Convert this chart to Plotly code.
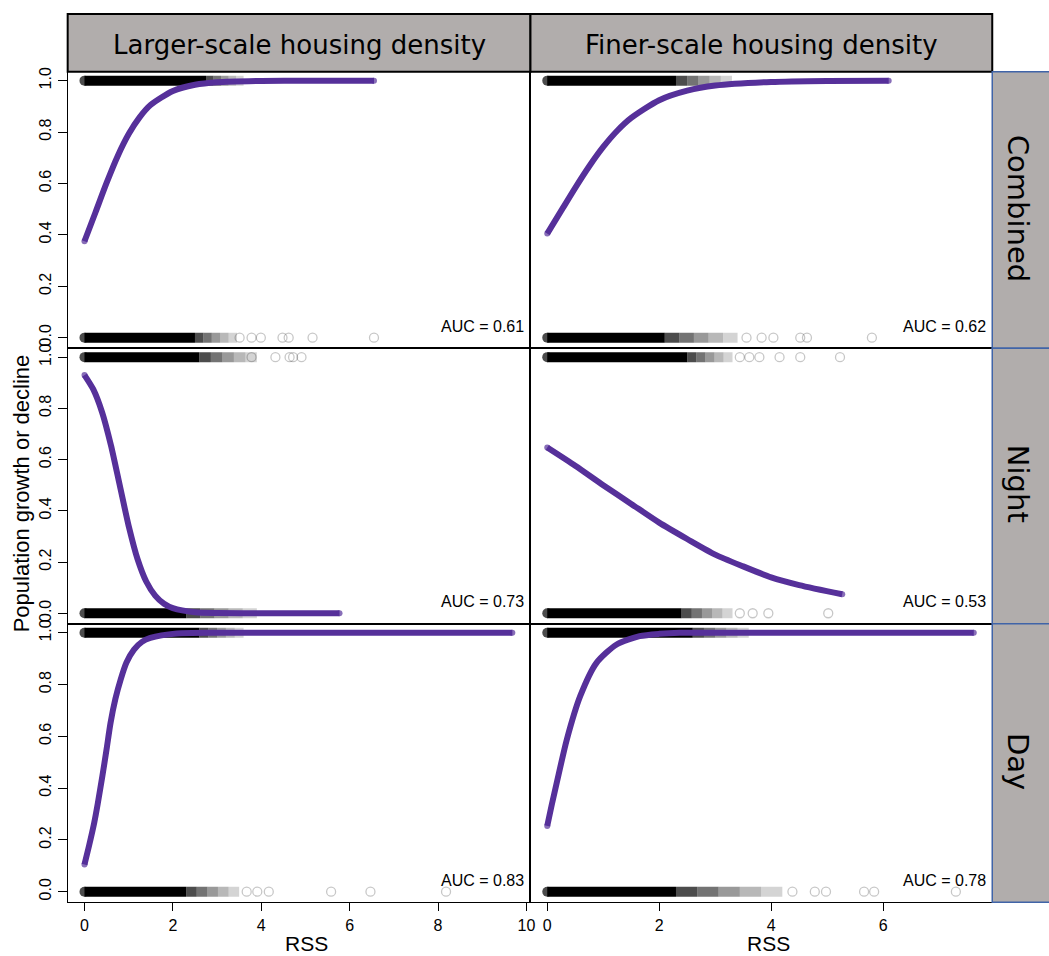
import plotly.graph_objects as go

W, H = 1049, 956

# ---------------- data ----------------
col_titles = ["Larger-scale housing density", "Finer-scale housing density"]
row_titles = ["Combined", "Night", "Day"]
auc_labels = ["AUC = 0.61", "AUC = 0.62", "AUC = 0.73", "AUC = 0.53", "AUC = 0.83", "AUC = 0.78"]

x_ticks_left = [0, 2, 4, 6, 8, 10]
x_ticks_right = [0, 2, 4, 6]
y_ticks = [0.0, 0.2, 0.4, 0.6, 0.8, 1.0]
y_ticktext = ["0.0", "0.2", "0.4", "0.6", "0.8", "1.0"]

# fitted curves
curve1_x = [0, 0.25, 0.5, 0.75, 1, 1.25, 1.5, 2, 2.5, 3, 4, 5, 6.55]
curve1_y = [0.375, 0.488, 0.602, 0.706, 0.792, 0.858, 0.906, 0.960, 0.984, 0.994, 0.999, 1.0, 1.0]
curve2_x = [0, 0.25, 0.5, 0.75, 1, 1.25, 1.5, 2, 2.5, 3, 4, 5, 6.1]
curve2_y = [0.405, 0.494, 0.583, 0.667, 0.742, 0.805, 0.855, 0.924, 0.961, 0.981, 0.995, 0.999, 1.0]
curve3_x = [0, 0.2, 0.4, 0.6, 0.8, 1.0, 1.2, 1.4, 1.6, 1.8, 2.0, 2.5, 3, 4, 5.77]
curve3_y = [0.93, 0.874, 0.784, 0.655, 0.498, 0.341, 0.212, 0.123, 0.069, 0.037, 0.020, 0.004, 0.001, 0.0, 0.0]
curve4_x = [0, 0.5, 1, 1.5, 2, 2.5, 3, 3.5, 4, 4.5, 5.27]
curve4_y = [0.647, 0.576, 0.50, 0.427, 0.354, 0.290, 0.229, 0.183, 0.14, 0.110, 0.074]
curve5_x = [0, 0.1, 0.22, 0.3, 0.405, 0.5, 0.59, 0.7, 0.82, 0.95, 1.12, 1.3, 1.49, 2.09, 3, 9.68]
curve5_y = [0.105, 0.175, 0.266, 0.34, 0.447, 0.55, 0.652, 0.745, 0.82, 0.885, 0.935, 0.965, 0.98, 0.997, 1.0, 1.0]
curve6_x = [0, 0.08, 0.17, 0.35, 0.59, 0.88, 1.24, 1.65, 2.0, 2.37, 3, 7.62]
curve6_y = [0.254, 0.335, 0.421, 0.588, 0.756, 0.884, 0.955, 0.987, 0.996, 1.0, 1.0, 1.0]

# observed points: dense run end, fading end, sparse outliers (RSS) for y=0 and y=1
obs0_dense = [2.5, 2.1, 2.3, 2.4, 2.3, 2.3]
obs0_fade = [3.45, 3.4, 3.9, 3.31, 3.5, 4.2]
obs0_sparse = [
    [3.51, 3.78, 3.99, 4.48, 4.62, 5.16, 6.55],
    [3.56, 3.83, 4.04, 4.52, 4.64, 5.8],
    [],
    [3.44, 3.67, 3.95, 5.02],
    [3.67, 3.91, 4.17, 5.58, 6.47, 8.18],
    [4.38, 4.78, 4.98, 5.66, 5.84, 7.3],
]
obs1_dense = [2.75, 2.3, 2.6, 2.5, 2.6, 2.6]
obs1_fade = [3.6, 3.3, 3.9, 3.31, 3.6, 3.6]
obs1_sparse = [
    [],
    [],
    [3.78, 4.32, 4.64, 4.72, 4.91],
    [3.44, 3.61, 3.79, 4.15, 4.52, 5.23],
    [],
    [],
]

curves_x = [curve1_x, curve2_x, curve3_x, curve4_x, curve5_x, curve6_x]
curves_y = [curve1_y, curve2_y, curve3_y, curve4_y, curve5_y, curve6_y]

# ---------------- layout geometry ----------------
col_px = [(68, 533), (533, 997)]
row_px = [(67, 345), (345, 622), (622, 902)]
x_ranges = [[-0.38, 10.09], [-0.30, 7.95]]
y_range = [-0.041, 1.035]

PURPLE = "#56309a"
STRIP = "#b1adac"
BLUE = "#4064a8"
SANS = "Liberation Sans, Arial"
STRIPFONT = "DejaVu Sans"
TICKFONT = dict(family=SANS, size=16, color="black")
FADE_ALPHAS = [0.7, 0.55, 0.4, 0.28, 0.17]

def px_x(p):
    return p / W

def px_y(p):
    return 1 - p / H

fig = go.Figure()
layout = dict(
    width=W, height=H, margin=dict(l=0, r=0, t=0, b=0),
    paper_bgcolor="white", plot_bgcolor="white", showlegend=False,
)
annotations = []
shapes = []

for r in range(3):
    for c in range(2):
        i = r * 2 + c
        n = i + 1
        xa = "x" if n == 1 else f"x{n}"
        ya = "y" if n == 1 else f"y{n}"
        xkey = "xaxis" if n == 1 else f"xaxis{n}"
        ykey = "yaxis" if n == 1 else f"yaxis{n}"
        bottom = r == 2
        left = c == 0
        layout[xkey] = dict(
            domain=[px_x(col_px[c][0]), px_x(col_px[c][1])],
            range=x_ranges[c], anchor=ya, showgrid=False, zeroline=False,
            showline=True, mirror=True, linecolor="black", linewidth=1.2,
            ticks="outside" if bottom else "", ticklen=8, tickwidth=1, tickcolor="black",
            tickvals=(x_ticks_left if left else x_ticks_right) if bottom else [],
            showticklabels=bottom, tickfont=TICKFONT,
        )
        layout[ykey] = dict(
            domain=[px_y(row_px[r][1]), px_y(row_px[r][0])],
            range=y_range, anchor=xa, showgrid=False, zeroline=False,
            showline=True, mirror=True, linecolor="black", linewidth=1.2,
            ticks="outside" if left else "", ticklen=9, tickwidth=1, tickcolor="black",
            tickvals=y_ticks if left else [], ticktext=y_ticktext if left else [],
            showticklabels=left, tickangle=-90, tickfont=TICKFONT,
        )

        # observations at y = 0 and y = 1 (dense run, fading tail, sparse outliers)
        for yv, dense, fade, sparse in [
            (0, obs0_dense[i], obs0_fade[i], obs0_sparse[i]),
            (1, obs1_dense[i], obs1_fade[i], obs1_sparse[i]),
        ]:
            nst = len(FADE_ALPHAS)
            step = (fade - dense) / nst
            for k in range(nst):
                fig.add_trace(go.Scatter(x=[dense + k * step, dense + (k + 1) * step], y=[yv, yv],
                                         mode="lines",
                                         line=dict(color=f"rgba(0,0,0,{FADE_ALPHAS[k]})", width=10),
                                         xaxis=xa, yaxis=ya, hoverinfo="skip"))
            fig.add_trace(go.Scatter(x=[0, dense], y=[yv, yv], mode="lines+markers",
                                     line=dict(color="black", width=10),
                                     marker=dict(color="black", size=[10, 0], line=dict(width=0)),
                                     xaxis=xa, yaxis=ya, hoverinfo="skip"))
            if sparse:
                fig.add_trace(go.Scatter(x=sparse, y=[yv] * len(sparse), mode="markers",
                                         marker=dict(symbol="circle-open", size=9,
                                                     color="rgba(0,0,0,0.22)",
                                                     line=dict(width=1.3)),
                                         xaxis=xa, yaxis=ya, hoverinfo="skip"))

        # fitted curve
        cx, cy = curves_x[i], curves_y[i]
        sizes = [6] + [0] * (len(cx) - 2) + [6]
        fig.add_trace(go.Scatter(x=cx, y=cy, mode="lines+markers",
                                 line=dict(color=PURPLE, width=6, shape="spline", smoothing=0.7),
                                 marker=dict(color=PURPLE, size=sizes, line=dict(width=0)),
                                 xaxis=xa, yaxis=ya, hoverinfo="skip"))

        # AUC label
        annotations.append(dict(
            text=auc_labels[i], xref=f"{xa} domain", yref=ya,
            x=0.99, y=0.045, xanchor="right", yanchor="middle", showarrow=False,
            font=dict(family=SANS, size=16, color="black"),
        ))

# column strips
for c in range(2):
    shapes.append(dict(type="rect", xref="paper", yref="paper",
                       x0=px_x(col_px[c][0]), x1=px_x(col_px[c][1]),
                       y0=px_y(67), y1=px_y(9),
                       fillcolor=STRIP, line=dict(color="black", width=2), layer="below"))
    annotations.append(dict(text=col_titles[c], xref="paper", yref="paper",
                            x=px_x((col_px[c][0] + col_px[c][1]) / 2), y=px_y(40),
                            xanchor="center", yanchor="middle", showarrow=False,
                            font=dict(family=STRIPFONT, size=26, color="black")))

# row strips
for r in range(3):
    shapes.append(dict(type="rect", xref="paper", yref="paper",
                       x0=px_x(997), x1=px_x(1080),
                       y0=px_y(row_px[r][1]), y1=px_y(row_px[r][0]),
                       fillcolor=STRIP, line=dict(color=BLUE, width=1.5)))
    annotations.append(dict(text=row_titles[r], xref="paper", yref="paper",
                            x=px_x(1023), y=px_y((row_px[r][0] + row_px[r][1]) / 2 - 2),
                            xanchor="center", yanchor="middle", textangle=90, showarrow=False,
                            font=dict(family=STRIPFONT, size=29, color="black")))

# axis titles
annotations.append(dict(text="Population growth or decline", xref="paper", yref="paper",
                        x=px_x(22), y=px_y(491), textangle=-90, showarrow=False,
                        xanchor="center", yanchor="middle",
                        font=dict(family=SANS, size=22, color="black")))
for c in range(2):
    annotations.append(dict(text="RSS", xref="paper", yref="paper",
                            x=px_x((col_px[c][0] + col_px[c][1]) / 2 + 7), y=px_y(943.5),
                            showarrow=False, xanchor="center", yanchor="middle",
                            font=dict(family=SANS, size=21, color="black")))

layout["annotations"] = annotations
layout["shapes"] = shapes
fig.update_layout(**layout)
fig.write_html("out.html")
